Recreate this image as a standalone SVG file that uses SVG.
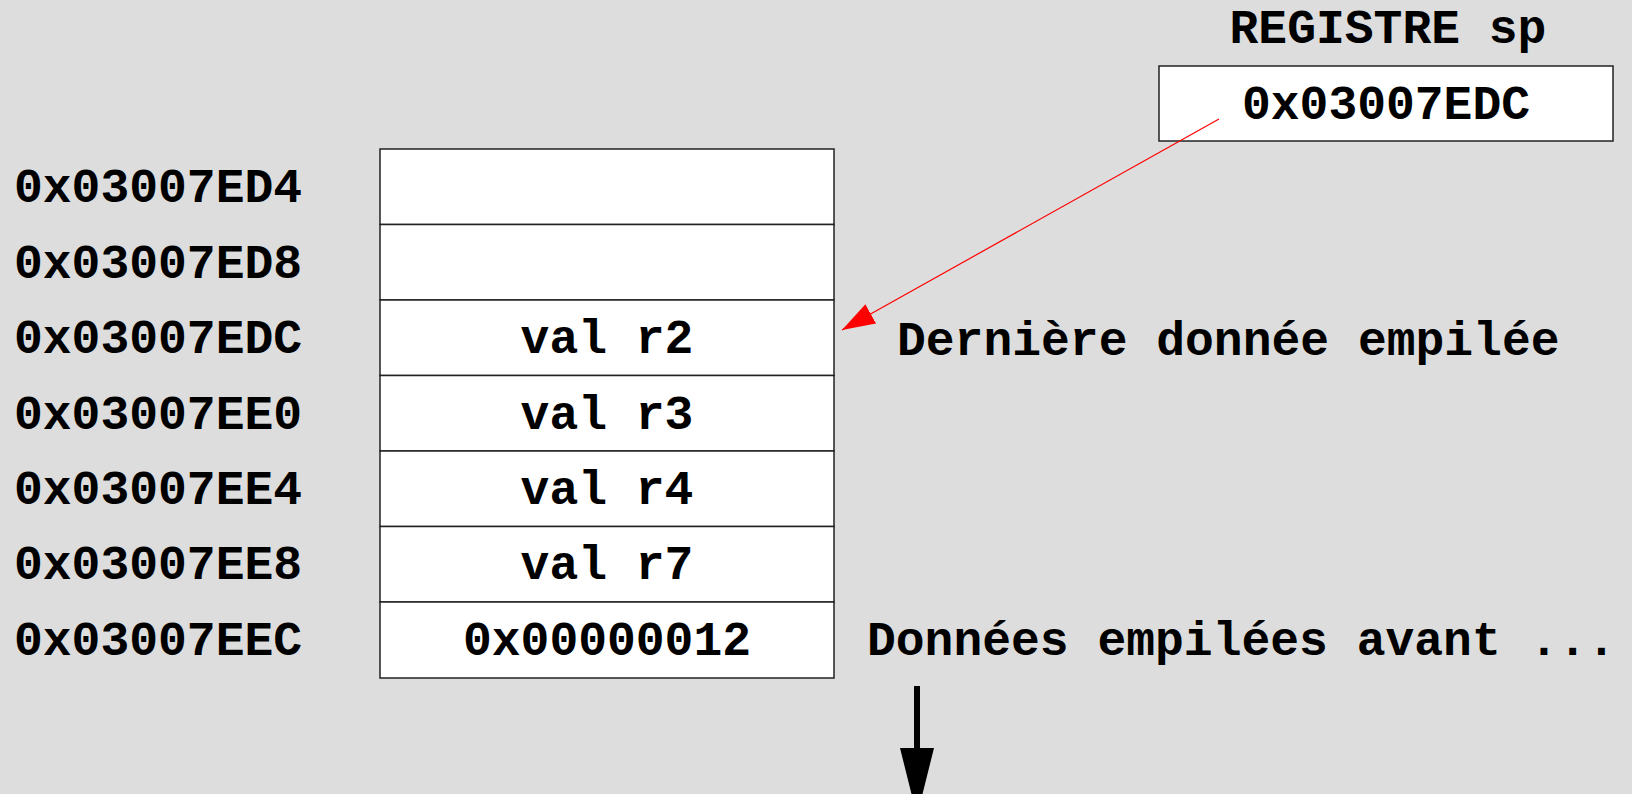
<svg xmlns="http://www.w3.org/2000/svg" width="1632" height="794" viewBox="0 0 1632 794">
<style>
.t{font-family:"Liberation Mono","Courier New",monospace;font-weight:bold;font-size:48px;fill:#000}
.c{text-anchor:middle}
.cell{fill:#fff;stroke:#222;stroke-width:1.5}
</style>
<defs>
<marker id="redHead" markerUnits="userSpaceOnUse" markerWidth="34" markerHeight="24" refX="33" refY="11" orient="auto">
<path d="M0,0 L33,11 L0,22 Z" fill="#ff0000"/>
</marker>
<marker id="blackHead" markerUnits="userSpaceOnUse" markerWidth="70" markerHeight="34" refX="68" refY="17" orient="auto">
<path d="M0,0 L68,17 L0,34 Z" fill="#000"/>
</marker>
</defs>
<rect width="1632" height="794" fill="#dddddd"/>
<g id="register">
<text class="t c" x="1388" y="43">REGISTRE sp</text>
<rect class="cell" x="1159" y="66" width="454" height="75"/>
<text class="t c" x="1386" y="119">0x03007EDC</text>
</g>
<g id="stack">
<g id="row1"><rect class="cell" x="380" y="149" width="454" height="75.5"/><text class="t" x="14" y="202">0x03007ED4</text></g>
<g id="row2"><rect class="cell" x="380" y="224.5" width="454" height="75.5"/><text class="t" x="14" y="277.5">0x03007ED8</text></g>
<g id="row3"><rect class="cell" x="380" y="300" width="454" height="75.5"/><text class="t" x="14" y="353">0x03007EDC</text><text class="t c" x="607" y="353">val r2</text></g>
<g id="row4"><rect class="cell" x="380" y="375.5" width="454" height="75.5"/><text class="t" x="14" y="428.5">0x03007EE0</text><text class="t c" x="607" y="428.5">val r3</text></g>
<g id="row5"><rect class="cell" x="380" y="451" width="454" height="75.5"/><text class="t" x="14" y="504">0x03007EE4</text><text class="t c" x="607" y="504">val r4</text></g>
<g id="row6"><rect class="cell" x="380" y="526.5" width="454" height="75.5"/><text class="t" x="14" y="579">0x03007EE8</text><text class="t c" x="607" y="579">val r7</text></g>
<g id="row7"><rect class="cell" x="380" y="602" width="454" height="76"/><text class="t" x="14" y="654.5">0x03007EEC</text><text class="t c" x="607" y="654.5">0x00000012</text></g>
</g>
<g id="labels">
<text class="t" x="897" y="355">Dernière donnée empilée</text>
<text class="t" x="867" y="654.5">Données empilées avant ...</text>
</g>
<g id="connectors">
<line x1="1219" y1="119" x2="842" y2="330" stroke="#ff0000" stroke-width="1.2" marker-end="url(#redHead)"/>
<line x1="917" y1="686" x2="917" y2="816" stroke="#000" stroke-width="6" marker-end="url(#blackHead)"/>
</g>
</svg>
